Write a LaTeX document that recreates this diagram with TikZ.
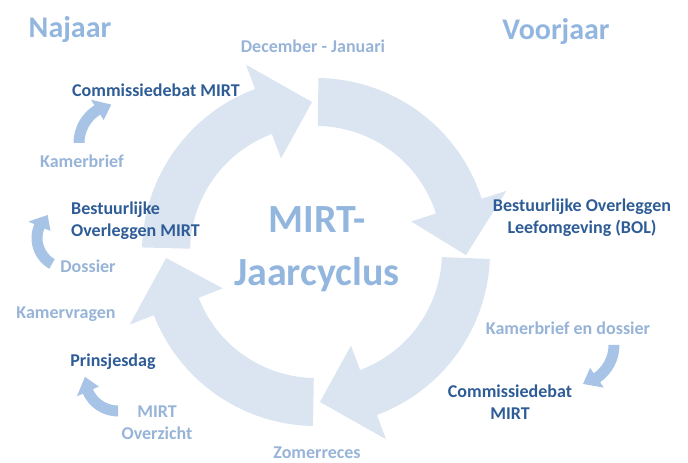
\documentclass[tikz,border=0pt]{standalone}
\usepackage{fontspec}
\setmainfont{Carlito}
\usetikzlibrary{positioning}

\definecolor{ringblue}{HTML}{DBE5F1}
\definecolor{smallblue}{HTML}{A7C4E6}
\definecolor{darkblue}{HTML}{2E5C96}
\definecolor{lightblue}{HTML}{97B4D8}
\definecolor{titleblue}{HTML}{93B6DF}

% [style]{centre}{tail angle}{tip angle}{mid radius}{half width}{half head width}{head angle}
\newcommand{\cycarrow}[8][ringfill]{%
  \pgfmathsetmacro{\hb}{#4+#8}%
  \fill[#1,shift={#2}] ({#3}:{#5+#6}) arc[start angle=#3,end angle=\hb,radius=#5+#6]
    -- ({\hb}:{#5+#7}) -- ({#4}:{#5}) -- ({\hb}:{#5-#7})
    -- ({\hb}:{#5-#6}) arc[start angle=\hb,end angle=#3,radius=#5-#6] -- cycle;}

\begin{document}
\begin{tikzpicture}
      [x=1pt,y=1pt,
        ringfill/.style={fill=ringblue},
        smallfill/.style={fill=smallblue},
        darklabel/.style={text=darkblue,font=\fontsize{18}{22}\selectfont\bfseries,align=center,inner sep=0pt},
        lightlabel/.style={text=lightblue,font=\fontsize{18}{22}\selectfont\bfseries,align=center,inner sep=0pt},
        seasonlabel/.style={text=titleblue,font=\fontsize{30}{36}\selectfont\bfseries,inner sep=0pt},
        titlelabel/.style={text=titleblue,font=\fontsize{40}{53}\selectfont\bfseries,align=center,inner sep=0pt}
      ]

      \useasboundingbox (0,0) rectangle (688,463);

      \cycarrow{(316,211)}{178.5}{91.5}{150}{24}{50}{19}
      \cycarrow{(316,211)}{89.2}{-1.2}{150}{24}{50}{19}
      \cycarrow{(316,211)}{-2.3}{-88.5}{150}{24}{50}{19}
      \cycarrow{(316,211)}{-91}{-177.7}{150}{24}{50}{19}

      \cycarrow[smallfill]{(118,320)}{180}{100}{39}{5.5}{12}{22}
      \cycarrow[smallfill]{(67,225)}{240}{130}{30}{5.5}{12}{27}
      \cycarrow[smallfill]{(118,85)}{270}{178}{33}{5.5}{12}{26}
      \cycarrow[smallfill]{(574,118)}{0}{-77}{40}{5.5}{12}{22}

      \node[seasonlabel] (najaar) at (70,433) {Najaar};
      \node[seasonlabel] (voorjaar) at (556,431) {Voorjaar};
      \node[lightlabel] (decjan) at (313,417) {December - Januari};

      \node[darklabel] (cdmirt) at (156,373) {Commissiedebat MIRT};
      \node[lightlabel] (kbrief) at (82,302) {Kamerbrief};
      \node[darklabel,align=left,anchor=west] (bomirt) at (71,242) {Bestuurlijke\\Overleggen MIRT};
      \node[lightlabel] (dossier) at (88,197) {Dossier};
      \node[lightlabel] (kvragen) at (66,149) {Kamervragen};
      \node[darklabel] (prinsjes) at (113,101) {Prinsjesdag};
      \node[lightlabel] (overzicht) at (157,40) {MIRT\\Overzicht};
      \node[lightlabel,anchor=base] (zomer) at (317,4) {Zomerreces};

      \node[titlelabel] (titel) at (317,214) {MIRT-\\Jaarcyclus};

      \node[darklabel] (bol) at (582,245) {Bestuurlijke Overleggen\\Leefomgeving (BOL)};
      \node[lightlabel] (kbdossier) at (568,135) {Kamerbrief en dossier};
      \node[darklabel] (cdmirt2) at (510,61) {Commissiedebat\\MIRT};

    \end{tikzpicture}
\end{document}
